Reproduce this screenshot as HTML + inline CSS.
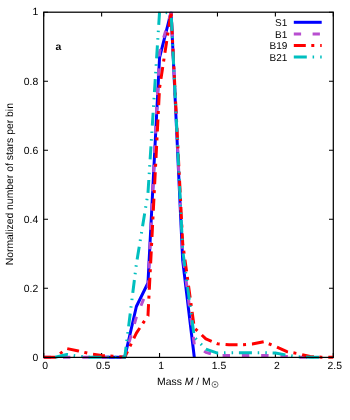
<!DOCTYPE html>
<html><head><meta charset="utf-8"><title>plot</title>
<style>
html,body{margin:0;padding:0;background:#fff;}
body{width:350px;height:420px;overflow:hidden;}
svg{display:block;}
text{font-family:"Liberation Sans",sans-serif;font-size:10.4px;fill:#000;text-rendering:geometricPrecision;}
</style></head><body>
<svg width="350" height="420" viewBox="0 0 350 420">
<rect width="350" height="420" fill="#fff"/>
<g fill="none" stroke="#000" stroke-width="1.1">
<path d="M43.70,357.40 v-4.3 M43.70,12.20 v4.3"/><path d="M101.62,357.40 v-4.3 M101.62,12.20 v4.3"/><path d="M159.54,357.40 v-4.3 M159.54,12.20 v4.3"/><path d="M217.46,357.40 v-4.3 M217.46,12.20 v4.3"/><path d="M275.38,357.40 v-4.3 M275.38,12.20 v4.3"/><path d="M333.30,357.40 v-4.3 M333.30,12.20 v4.3"/><path d="M43.70,357.20 h4.3 M333.30,357.20 h-4.3"/><path d="M43.70,288.20 h4.3 M333.30,288.20 h-4.3"/><path d="M43.70,219.20 h4.3 M333.30,219.20 h-4.3"/><path d="M43.70,150.20 h4.3 M333.30,150.20 h-4.3"/><path d="M43.70,81.20 h4.3 M333.30,81.20 h-4.3"/><path d="M43.70,12.20 h4.3 M333.30,12.20 h-4.3"/>
</g>
<clipPath id="cp"><rect x="40.7" y="11.799999999999999" width="295.60" height="347.40"/></clipPath>
<g fill="none" stroke-width="3" stroke-linejoin="round" stroke-linecap="butt" clip-path="url(#cp)">
<path d="M101.62,357.20 L113.20,357.20 L124.79,357.20 L136.37,306.49 L147.96,283.02 L159.54,57.74 L171.12,12.20 L182.71,260.60 L194.29,357.20" stroke="#0000ff"/>
<path d="M43.70,357.20 L55.28,357.20 L66.87,357.20 L78.45,357.20 L90.04,357.20 L101.62,357.20 L113.20,357.20 L124.79,357.20 L136.37,317.18 L147.96,288.20 L159.54,51.88 L171.12,12.20" stroke="#b84ed0" stroke-dasharray="7.4 11.9"/>
<path d="M171.12,12.20 L182.71,253.70 L194.29,344.44 L205.88,352.37 L217.46,355.47 L229.04,355.47 L240.63,355.47 L252.21,355.47 L263.80,355.47 L275.38,355.82 L286.96,356.51 L298.55,357.20 L310.13,357.20" stroke="#b84ed0" stroke-dasharray="7.4 11.9" stroke-dashoffset="2.3"/>
<path d="M43.70,357.20 L55.28,357.20 L66.87,348.57 L78.45,350.99 L90.04,353.75 L101.62,355.47 L113.20,356.16 L124.79,357.20 L136.37,333.05 L147.96,315.80 L159.54,88.10 L171.12,12.20" stroke="#ff0000" stroke-dasharray="12 5.5 3 5.9"/>
<path d="M171.12,12.20 L182.71,243.35 L194.29,327.88 L205.88,338.91 L217.46,343.75 L229.04,344.78 L240.63,344.78 L252.21,344.09 L263.80,341.68 L275.38,346.50 L286.96,351.68 L298.55,353.75 L310.13,356.51 L321.72,357.20 L333.30,357.20" stroke="#ff0000" stroke-dasharray="12 5.5 3 5.9" stroke-dashoffset="16.15"/>
<path d="M55.28,357.20 L66.87,354.44 L78.45,356.16 L90.04,357.20 L101.62,357.20 L113.20,357.20 L124.79,357.20 L136.37,264.05 L147.96,193.32 L159.54,12.20 L171.12,12.89" stroke="#00bfbf" stroke-dasharray="13 5.8 1.5 6.1 1.5 5.8"/>
<path d="M171.12,12.89 L182.71,250.25 L194.29,337.19 L205.88,349.09 L217.46,353.06 L229.04,352.71 L240.63,352.71 L252.21,352.71 L263.80,352.71 L275.38,353.06 L286.96,355.13 L298.55,356.85 L310.13,357.20 L321.72,357.20" stroke="#00bfbf" stroke-dasharray="13 5.8 1.5 6.1 1.5 5.8" stroke-dashoffset="28.74"/>
</g>
<g fill="none" stroke="#000" stroke-width="1.25">
<rect x="43.7" y="12.2" width="289.60" height="345.20"/>
</g>
<filter id="soft" x="-5%" y="-5%" width="110%" height="110%"><feGaussianBlur stdDeviation="0.25"/></filter>
<g filter="url(#soft)">
<text x="45.20" y="369.0" text-anchor="middle">0</text><text x="103.12" y="369.0" text-anchor="middle">0.5</text><text x="161.04" y="369.0" text-anchor="middle">1</text><text x="218.96" y="369.0" text-anchor="middle">1.5</text><text x="276.88" y="369.0" text-anchor="middle">2</text><text x="334.80" y="369.0" text-anchor="middle">2.5</text><text x="38.2" y="360.50" text-anchor="end">0</text><text x="38.2" y="291.50" text-anchor="end">0.2</text><text x="38.2" y="222.50" text-anchor="end">0.4</text><text x="38.2" y="153.50" text-anchor="end">0.6</text><text x="38.2" y="84.50" text-anchor="end">0.8</text><text x="38.2" y="14.80" text-anchor="end">1</text>
<text x="287.3" y="25.9" text-anchor="end" style="font-size:10px">S1</text>
<text x="287.3" y="37.5" text-anchor="end" style="font-size:10px">B1</text>
<text x="287.3" y="49.1" text-anchor="end" style="font-size:10px">B19</text>
<text x="287.3" y="60.7" text-anchor="end" style="font-size:10px">B21</text>
<text x="55.6" y="49.8" font-weight="bold">a</text>
<text x="157.0" y="384.9">Mass <tspan font-style="italic">M</tspan> / M</text>
<circle cx="215" cy="384.5" r="3" fill="none" stroke="#222" stroke-width="0.6"/><circle cx="215" cy="384.5" r="0.8" fill="#222"/>
<text transform="translate(12.8,184.2) rotate(-90)" text-anchor="middle">Normalized number of stars per bin</text>
</g>
<g fill="none" stroke-width="3">
<path d="M293.8,22.3 H321.7" stroke="#0000ff"/>
<path d="M293.8,33.9 H321.7" stroke="#b84ed0" stroke-dasharray="7.3 11.5"/>
<path d="M293.8,45.5 H321.7" stroke="#ff0000" stroke-dasharray="12 5.5 3 5.9"/>
<path d="M293.8,57.1 H321.7" stroke="#00bfbf" stroke-dasharray="13 5.8 1.5 6.1 1.5 5.8"/>
</g>
</svg>
</body></html>
